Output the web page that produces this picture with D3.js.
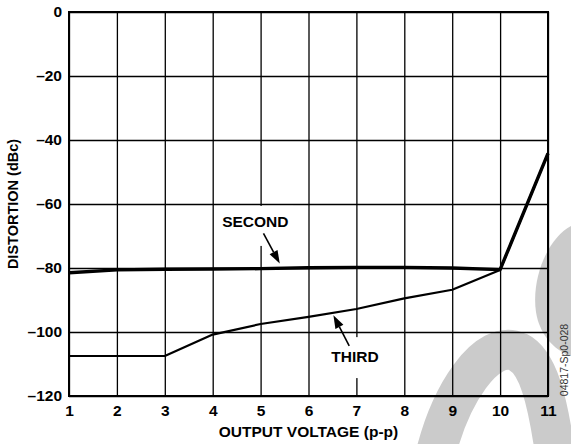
<!DOCTYPE html>
<html>
<head>
<meta charset="utf-8">
<script src="https://cdn.jsdelivr.net/npm/d3@7"></script>
<style>
  html, body { margin: 0; padding: 0; background: #fff; }
  svg { display: block; }
  text { font-family: "Liberation Sans", Arial, Helvetica, sans-serif; }
</style>
</head>
<body>
<svg id="chart" width="571" height="444"></svg>
<script>
// ---- data ----
const voltage = [1, 2, 3, 4, 5, 6, 7, 8, 9, 10, 11];
const secondHarmonic = [-81.5, -80.6, -80.4, -80.3, -80.2, -79.9, -79.8, -79.8, -80.0, -80.5, -44.2];
const thirdHarmonic = [-107.5, -107.5, -107.5, -100.8, -97.5, -95.3, -92.8, -89.5, -86.8, -80.6, -44.2];
const xTickValues = [1, 2, 3, 4, 5, 6, 7, 8, 9, 10, 11];
const xTickLabels = ["1", "2", "3", "4", "5", "6", "7", "8", "9", "10", "11"];
const yTickValues = [0, -20, -40, -60, -80, -100, -120];
const yTickLabels = ["0", "–20", "–40", "–60", "–80", "–100", "–120"];
const xTitle = "OUTPUT VOLTAGE (p-p)";
const yTitle = "DISTORTION (dBc)";
const annotations = [
  { label: "SECOND", lx: 4.89, ly: -65.5, ax: 5.06, ay: -69.2, tx: 5.40, ty: -78.6 },
  { label: "THIRD",  lx: 6.97, ly: -107.7, ax: 6.85, ay: -104.3, tx: 6.52, ty: -94.8 }
];
const figureId = "04817-Sp0-028";

// ---- layout ----
const svg = d3.select("#chart");
const L = 69, R = 548, T = 12, B = 396;
const x = d3.scaleLinear().domain([1, 11]).range([L, R]);
const y = d3.scaleLinear().domain([-120, 0]).range([B, T]);
const FONT = "Liberation Sans, Arial, sans-serif";

// watermark (background)
svg.append("path").attr("d", "M571,226 C548,238 531,278 536,312 C540,338 558,352 571,356 Z")
  .attr("fill", "#cbcbcb");
svg.append("path")
  .attr("d", "M432,470 C448,392 488,338 518,352 C538,362 548,400 556,460")
  .attr("fill", "none").attr("stroke", "#cbcbcb").attr("stroke-width", 40);

// gridlines via axes
const gx = svg.append("g").attr("transform", `translate(0,${B})`)
  .call(d3.axisBottom(x).tickValues(xTickValues).tickSize(-(B - T)).tickFormat(""));
gx.select(".domain").remove();
gx.selectAll("line").attr("stroke", "#000").attr("stroke-width", 1.3);

const gy = svg.append("g").attr("transform", `translate(${L},0)`)
  .call(d3.axisLeft(y).tickValues(yTickValues).tickSize(-(R - L)).tickFormat(""));
gy.select(".domain").remove();
gy.selectAll("line").attr("stroke", "#000").attr("stroke-width", 1.3);

// label gaps in the grid
const gaps = svg.append("g").attr("fill", "#fff");
gaps.append("rect").attr("x", x(annotations[0].lx) - 38).attr("y", y(-60.6))
  .attr("width", 76).attr("height", y(-73.1) - y(-60.6));
gaps.append("rect").attr("x", x(annotations[1].lx) - 27).attr("y", y(-101.6))
  .attr("width", 54).attr("height", y(-114.4) - y(-101.6));

// frame
svg.append("rect").attr("x", L).attr("y", T).attr("width", R - L).attr("height", B - T)
  .attr("fill", "none").attr("stroke", "#000").attr("stroke-width", 2);

// tick labels via axes (no tick lines)
const ax = svg.append("g").attr("transform", `translate(0,${B})`)
  .call(d3.axisBottom(x).tickValues(xTickValues).tickSize(0).tickPadding(9)
    .tickFormat((d, i) => xTickLabels[i]));
ax.select(".domain").remove();
ax.attr("font-family", FONT).attr("font-size", 15.5);
ax.selectAll("text").attr("font-size", 15.5).attr("font-weight", "bold")
  .attr("font-family", FONT).attr("fill", "#000");

const ay = svg.append("g").attr("transform", `translate(${L},0)`)
  .call(d3.axisLeft(y).tickValues(yTickValues).tickSize(0).tickPadding(7)
    .tickFormat((d, i) => yTickLabels[i]));
ay.select(".domain").remove();
ay.attr("font-family", FONT).attr("font-size", 15.5);
ay.selectAll("text").attr("font-size", 15.5).attr("font-weight", "bold")
  .attr("font-family", FONT).attr("fill", "#000");

// axis titles
svg.append("text").attr("x", (L + R) / 2).attr("y", 437)
  .attr("text-anchor", "middle").attr("font-size", 15.5).attr("font-weight", "bold")
  .text(xTitle);
svg.append("text").attr("transform", `translate(18,${(T + B) / 2}) rotate(-90)`)
  .attr("text-anchor", "middle").attr("font-size", 14.5).attr("font-weight", "bold")
  .text(yTitle);

// data lines
const line = d3.line().x((d, i) => x(voltage[i])).y(d => y(d));
svg.append("path").datum(thirdHarmonic).attr("d", line)
  .attr("fill", "none").attr("stroke", "#000").attr("stroke-width", 2.2)
  .attr("stroke-linejoin", "round");
svg.append("path").datum(secondHarmonic).attr("d", line)
  .attr("fill", "none").attr("stroke", "#000").attr("stroke-width", 3.4)
  .attr("stroke-linejoin", "round");

// annotations
annotations.forEach(a => {
  svg.append("text").attr("x", x(a.lx)).attr("y", y(a.ly))
    .attr("text-anchor", "middle").attr("dominant-baseline", "central")
    .attr("font-size", 15.5).attr("font-weight", "bold").text(a.label);
  const x0 = x(a.ax), y0 = y(a.ay), x1 = x(a.tx), y1 = y(a.ty);
  const ang = Math.atan2(y1 - y0, x1 - x0);
  const hl = 13, hw = 4.5;
  const bx = x1 - hl * Math.cos(ang), by = y1 - hl * Math.sin(ang);
  svg.append("line").attr("x1", x0).attr("y1", y0).attr("x2", bx).attr("y2", by)
    .attr("stroke", "#000").attr("stroke-width", 1.6);
  const px = -Math.sin(ang), py = Math.cos(ang);
  svg.append("path")
    .attr("d", `M${x1},${y1} L${bx + hw * px},${by + hw * py} L${bx - hw * px},${by - hw * py} Z`)
    .attr("fill", "#000");
});

// figure id
svg.append("text").attr("transform", "translate(568,360) rotate(-90)")
  .attr("text-anchor", "middle").attr("font-size", 10.5).attr("fill", "#333")
  .text(figureId);
</script>
</body>
</html>
